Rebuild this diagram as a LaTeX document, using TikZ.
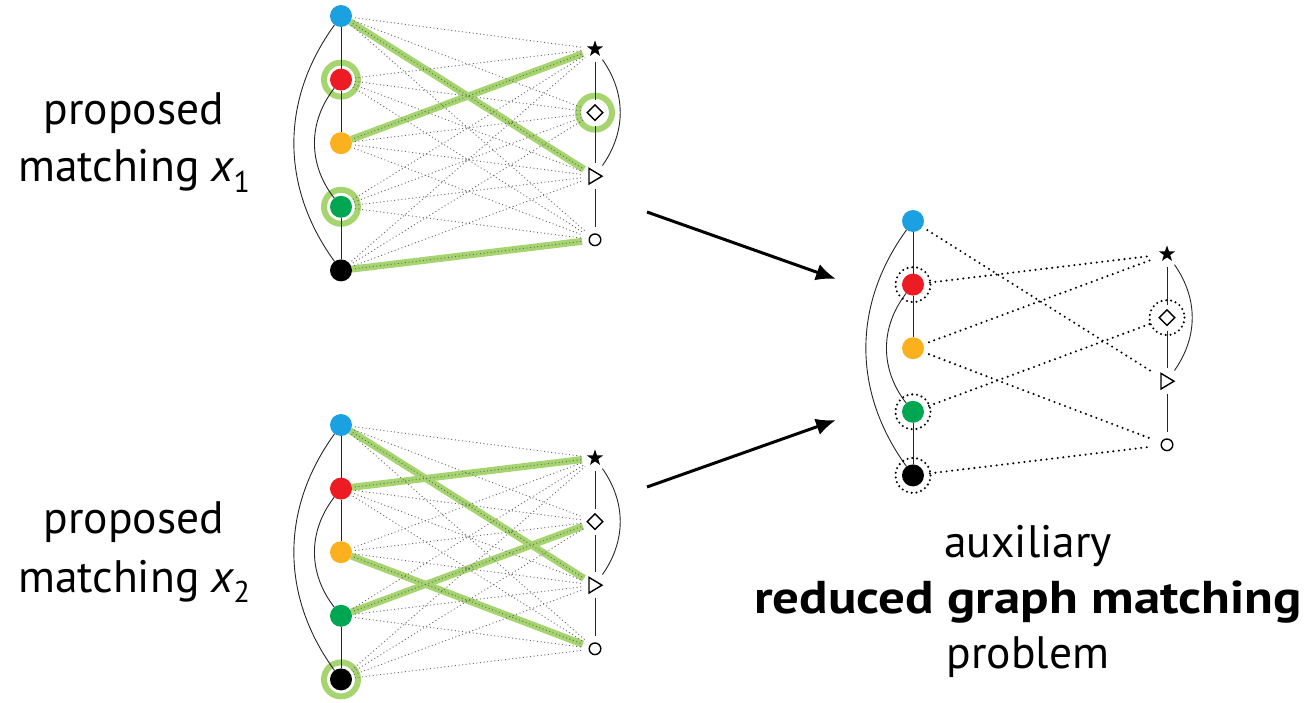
\documentclass[tikz,border=0pt]{standalone}
\usepackage{fontspec}
\setmainfont{PT Sans}
\usetikzlibrary{arrows.meta}

\definecolor{cblue}{RGB}{27,161,226}
\definecolor{cred}{RGB}{237,28,36}
\definecolor{corange}{RGB}{251,176,30}
\definecolor{cgreen}{RGB}{0,166,81}
\definecolor{hl}{RGB}{166,212,110}

\pgfdeclarelayer{back}
\pgfdeclarelayer{mid}
\pgfsetlayers{back,mid,main}

\tikzset{
  vtx/.style={circle, minimum size=22pt, inner sep=0pt, outer sep=0pt, fill=#1},
  rv/.style={circle, minimum size=22pt, inner sep=0pt, outer sep=2pt},
  symline/.style={black, line width=1.4pt, line join=miter},
  edge/.style={black!85, line width=0.9pt},
  ring/.style={hl, line width=6pt},
  cand/.style={black!60, line width=0.9pt, dash pattern=on 1pt off 2.6pt, shorten <=3pt},
  pick/.style={hl, line width=7pt},
  redge/.style={black, line width=2.3pt, line cap=round, dash pattern=on 0pt off 5.6pt,
                shorten <=6pt, shorten >=5pt},
  rring/.style={black, line width=2.3pt, line cap=round, dash pattern=on 0pt off 4.8pt},
  txt/.style={font=\fontsize{45.5}{54}\selectfont, inner sep=0pt, anchor=base},
  arr/.style={black, line width=3pt, -{Latex[length=20pt,width=17pt]}},
}

% small lowered index after an italic letter
\newcommand\idx[1]{\raisebox{-0.22em}{\fontsize{30}{30}\selectfont #1}}

% one bipartite graph: 5 coloured vertices on the left, 4 symbols on the right
\newcommand\bigraph[3]{%
  \foreach \c [count=\i from 0] in {cblue,cred,corange,cgreen,black}
    \node[vtx=\c] (#1l\i) at ({#2},{#3+63.6*\i}) {};
  \foreach \j in {0,...,3}
    \node[rv] (#1r\j) at ({#2+254},{#3+33+63.6*\j}) {};
  % symbols
  \fill[shift={(#1r0.center)}] (270:8.5) -- (306:3.4) -- (342:8.5) -- (18:3.4) -- (54:8.5)
       -- (90:3.4) -- (126:8.5) -- (162:3.4) -- (198:8.5) -- (234:3.4) -- cycle;
  \draw[symline, shift={(#1r1.center)}] (0,-7.8) -- (7.8,0) -- (0,7.8) -- (-7.8,0) -- cycle;
  \draw[symline, shift={(#1r2.center)}] (-6,-7.8) -- (7,0) -- (-6,7.8) -- cycle;
  \draw[symline] (#1r3.center) circle[radius=5.8];
  \begin{pgfonlayer}{mid}
    \draw[edge] (#1l0) -- (#1l1) -- (#1l2);
    \draw[edge] (#1l3) -- (#1l4);
    \draw[edge] (#1l0) to[bend right=36] (#1l4);
    \draw[edge] (#1l1) to[bend right=38] (#1l3);
    \draw[edge] (#1r0) -- (#1r1) -- (#1r2) -- (#1r3);
    \draw[edge] (#1r0) to[bend left=35] (#1r2);
  \end{pgfonlayer}
}

% all candidate pairs of a graph
\newcommand\candidates[1]{%
  \begin{pgfonlayer}{mid}
    \foreach \i in {0,...,4}
      \foreach \j in {0,...,3}
        \draw[cand] (#1l\i) -- (#1r\j);
  \end{pgfonlayer}
}

\begin{document}
\begin{tikzpicture}[x=1pt, y=-1pt]
\useasboundingbox (0,0) rectangle (1307,703);

% first proposal
\bigraph{a}{341}{16}
\candidates{a}
\begin{pgfonlayer}{back}
  \draw[ring] (al1.center) circle[radius=17];
  \draw[ring] (al3.center) circle[radius=17];
  \draw[ring] (ar1.center) circle[radius=17];
  \draw[pick] (al0) -- (ar2);
  \draw[pick] (al2) -- (ar0);
  \draw[pick] (al4) -- (ar3);
\end{pgfonlayer}

% second proposal
\bigraph{b}{341}{425}
\candidates{b}
\begin{pgfonlayer}{back}
  \draw[ring] (bl4.center) circle[radius=17];
  \draw[pick] (bl0) -- (br2);
  \draw[pick] (bl1) -- (br0);
  \draw[pick] (bl2) -- (br3);
  \draw[pick] (bl3) -- (br1);
\end{pgfonlayer}

% reduced problem
\bigraph{c}{913}{221}
\begin{pgfonlayer}{mid}
  \draw[rring] (cl1.center) circle[radius=17.5];
  \draw[rring] (cl3.center) circle[radius=17.5];
  \draw[rring] (cl4.center) circle[radius=17.5];
  \draw[rring] (cr1.center) circle[radius=17.5];
  \draw[redge] (cl0) -- (cr2);
  \draw[redge] (cl1) -- (cr0);
  \draw[redge] (cl2) -- (cr0);
  \draw[redge] (cl2) -- (cr3);
  \draw[redge] (cl3) -- (cr1);
  \draw[redge] (cl4) -- (cr3);
\end{pgfonlayer}

% arrows
\coordinate (u1) at (647,212);
\coordinate (v1) at (836,279);
\coordinate (u2) at (647,487);
\coordinate (v2) at (836,420);
\draw[arr] (u1) -- (v1);
\draw[arr] (u2) -- (v2);

% labels
\node[txt] (t1a) at (134,125) {proposed};
\node[txt] (t1b) at (134,182) {matching {\itshape x}\idx{1}};
\node[txt] (t2a) at (134,533) {proposed};
\node[txt] (t2b) at (134,592) {matching {\itshape x}\idx{2}};
\node[txt] (t3a) at (1028,557) {auxiliary};
\node[txt, font=\fontsize{46}{54}\selectfont\bfseries] (t3b) at (1028,613)
  {\scalebox{1.15}[1]{reduced graph matching}};
\node[txt] (t3c) at (1028,668) {problem};
\end{tikzpicture}
\end{document}
